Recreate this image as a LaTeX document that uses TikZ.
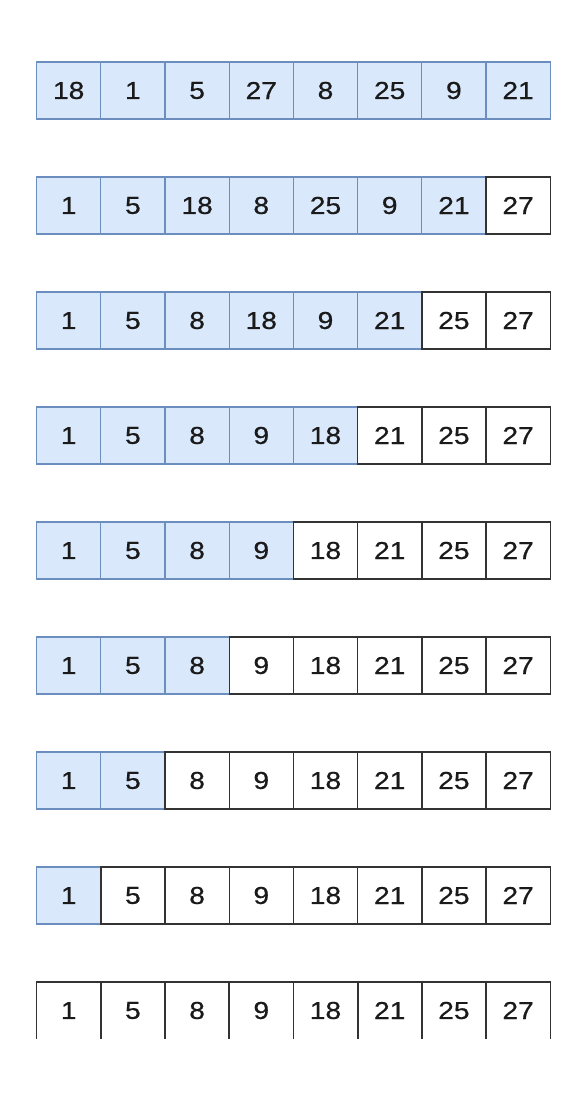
\documentclass[tikz,border=0pt]{standalone}
\usepackage{fontspec}
\setmainfont{Liberation Sans}
\newfontfamily\cellfamily[FakeStretch=1.15, FakeBold=0.6]{Liberation Sans}
\usepackage{tikz}
\usetikzlibrary{positioning}

\definecolor{bluefill}{HTML}{DAE8FC}
\definecolor{blueedge}{HTML}{6C8EBF}
\definecolor{doneedge}{HTML}{333333}
\definecolor{digit}{HTML}{1A1A1A}
\newcommand{\cellfont}{\cellfamily\fontsize{24.5}{28}\selectfont}

\begin{document}
\begin{tikzpicture}[x=1pt,y=-1pt]
        \tikzstyle{cell}=[rectangle, inner sep=0pt, minimum width=64.2pt, minimum height=57pt, font=\cellfont, text=digit]
        \tikzstyle{todo}=[cell, draw=blueedge, fill=bluefill, line width=1.2pt]
        \tikzstyle{done}=[cell, draw=doneedge, fill=white, line width=1.4pt]
        \tikzstyle{open}=[cell]

        \useasboundingbox (0,0) rectangle (571,1093);

        % passes of the sort, k = cells still unsorted
        \foreach \r/\k/\vals in {1/8/{18,1,5,27,8,25,9,21},
                                 2/7/{1,5,18,8,25,9,21,27},
                                 3/6/{1,5,8,18,9,21,25,27},
                                 4/5/{1,5,8,9,18,21,25,27},
                                 5/4/{1,5,8,9,18,21,25,27},
                                 6/3/{1,5,8,9,18,21,25,27},
                                 7/2/{1,5,8,9,18,21,25,27},
                                 8/1/{1,5,8,9,18,21,25,27}}
        {
            \foreach \v [count=\c] in \vals {
                \ifnum\c>\k \def\st{done}\else \def\st{todo}\fi
                \node[\st] (r\r-\c) at ({36.6+64.2*(\c-0.5)},{90.5+115*(\r-1)}) {\v};
            }
        }

        % last row, cut off at the bottom
        \foreach \v [count=\c] in {1,5,8,9,18,21,25,27} {
            \node[open] (r9-\c) at ({36.6+64.2*(\c-0.5)},{90.5+115*8}) {\v};
            \draw[doneedge, line width=1.4pt] (r9-\c.south west) -- (r9-\c.north west)
                -- (r9-\c.north east) -- (r9-\c.south east);
        }
\end{tikzpicture}
\end{document}
